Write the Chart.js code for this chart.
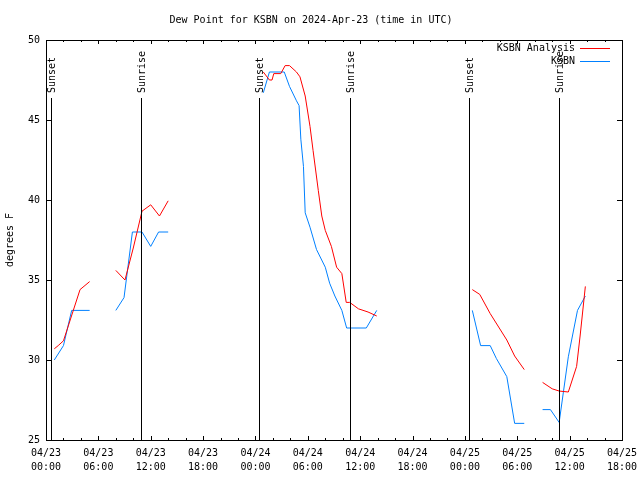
<!DOCTYPE html>
<html>
<head>
<meta charset="utf-8">
<script src="https://cdn.jsdelivr.net/npm/chart.js@4/dist/chart.umd.min.js"></script>
<style>
  html, body { margin: 0; padding: 0; background: #fff; }
  #wrap { width: 640px; height: 480px; }
</style>
</head>
<body>
<div id="wrap"><canvas id="dewChart" width="640" height="480"></canvas></div>
<script>
// hours since 04/23 00:00 UTC; null value = gap in the record
const analysisHours = [0.95, 1.4, 2.0, 3.9, 5.0, 6.5,
    8.0, 9.05, 10.0, 11.0, 12.0, 13.0, 14.0, 19.0,
    24.9, 25.6, 25.9, 26.1, 26.9, 27.4, 27.9, 28.7, 29.1, 29.7, 30.25, 30.6, 31.2, 31.6, 32.0, 32.7, 33.3, 33.9, 34.4, 34.8, 35.8, 36.9, 37.9, 43.0,
    48.85, 49.7, 50.9, 52.8, 53.7, 54.8, 55.8,
    56.9, 58.0, 58.8, 59.85, 60.8, 61.2, 61.8];
const analysisDew = [30.7, 30.9, 31.2, 34.4, 34.9, null,
    35.6, 35.0, 37.0, 39.3, 39.7, 39.0, 39.95, null,
    48.0, 47.5, 47.5, 47.9, 47.9, 48.4, 48.4, 48.0, 47.7, 46.5, 44.6, 43.1, 40.6, 39.0, 38.1, 37.1, 35.8, 35.4, 33.6, 33.6, 33.2, 33.0, 32.75, null,
    34.4, 34.1, 32.9, 31.25, 30.25, 29.4, null,
    28.6, 28.2, 28.06, 28.0, 29.6, 31.5, 34.6];

const obsHours = [0.95, 2.0, 2.94, 5.0, 6.5,
    8.0, 8.94, 9.9, 11.0, 12.0, 12.9, 14.0, 19.0,
    24.9, 25.6, 27.3, 27.9, 28.7, 29.0, 29.2, 29.5, 29.7, 30.25, 31.0, 32.0, 32.5, 33.1, 33.9, 34.45, 36.7, 37.9, 43.0,
    48.85, 49.8, 50.9, 51.6, 52.8, 53.7, 54.8, 55.8,
    56.9, 57.8, 58.8, 59.85, 60.9, 61.8];
const obsDew = [30.0, 30.9, 33.1, 33.1, null,
    33.1, 33.9, 38.0, 38.0, 37.1, 38.0, 38.0, null,
    46.7, 48.0, 48.0, 47.1, 46.2, 45.9, 43.8, 42.1, 39.2, 38.3, 36.9, 35.8, 34.8, 34.0, 33.1, 32.0, 32.0, 33.1, null,
    33.1, 30.9, 30.9, 30.1, 28.96, 26.04, 26.04, null,
    26.9, 26.9, 26.1, 30.2, 33.1, 34.0];

const sunsetHours = [0.54, 24.45, 48.5];
const sunriseHours = [10.9, 34.83, 58.8];

const dayLabels = ['04/23', '04/24', '04/25', '04/26'];
const yTicks = [25, 30, 35, 40, 45, 50];

const FONT = 'DejaVu Sans Mono';

function toPoints(hours, vals) {
    return hours.map((h, i) => ({ x: h, y: vals[i] }));
}

// frame, inward ticks, sunrise/sunset markers, key
const gnuplotLook = {
    id: 'gnuplotLook',
    afterDatasetsDraw(chart) {
        const { ctx, chartArea: a, scales } = chart;
        const xs = scales.x, ys = scales.y;
        ctx.save();
        ctx.strokeStyle = '#000';
        ctx.lineWidth = 1;
        ctx.strokeRect(a.left + 0.5, a.top + 0.5, a.right - a.left, a.bottom - a.top);

        ctx.beginPath();
        for (let h = 0; h <= 66; h += 2) {
            const px = Math.round(xs.getPixelForValue(h)) + 0.5;
            const len = h % 6 === 0 ? 4 : 2;
            ctx.moveTo(px, a.bottom); ctx.lineTo(px, a.bottom - len);
            ctx.moveTo(px, a.top); ctx.lineTo(px, a.top + len);
        }
        yTicks.forEach(v => {
            const py = Math.round(ys.getPixelForValue(v)) + 0.5;
            ctx.moveTo(a.left, py); ctx.lineTo(a.left + 5, py);
            ctx.moveTo(a.right, py); ctx.lineTo(a.right - 5, py);
        });
        ctx.stroke();

        // sun event lines with vertical labels
        ctx.font = '10px ' + FONT;
        ctx.fillStyle = '#000';
        const marks = sunsetHours.map(h => [h, 'Sunset']).concat(sunriseHours.map(h => [h, 'Sunrise']));
        marks.forEach(([h, txt]) => {
            const px = Math.round(xs.getPixelForValue(h)) + 0.5;
            ctx.beginPath();
            ctx.moveTo(px, 98);
            ctx.lineTo(px, a.bottom);
            ctx.stroke();
            ctx.save();
            ctx.translate(px + 1, 93);
            ctx.rotate(-Math.PI / 2);
            ctx.textAlign = 'left';
            ctx.textBaseline = 'middle';
            ctx.fillText(txt, 0, 0);
            ctx.restore();
        });

        // key
        ctx.textAlign = 'right';
        ctx.textBaseline = 'middle';
        chart.data.datasets.forEach((ds, i) => {
            const y = 48 + i * 13;
            ctx.fillStyle = '#000';
            ctx.fillText(ds.label, 575, y);
            ctx.strokeStyle = ds.borderColor;
            ctx.beginPath();
            ctx.moveTo(580, y + 0.5);
            ctx.lineTo(610, y + 0.5);
            ctx.stroke();
        });
        ctx.restore();
    }
};

document.addEventListener('DOMContentLoaded', () => {
    const ctx = document.getElementById('dewChart').getContext('2d');
    new Chart(ctx, {
        type: 'line',
        data: {
            datasets: [{
                label: 'KSBN Analysis',
                data: toPoints(analysisHours, analysisDew),
                borderColor: '#ff0000',
                borderWidth: 1,
                pointRadius: 0,
                tension: 0,
                spanGaps: false
            }, {
                label: 'KSBN',
                data: toPoints(obsHours, obsDew),
                borderColor: '#0080ff',
                borderWidth: 1,
                pointRadius: 0,
                tension: 0,
                spanGaps: false
            }]
        },
        options: {
            responsive: false,
            animation: false,
            layout: { padding: { top: 0, right: 18, bottom: 0, left: 0 } },
            plugins: {
                legend: { display: false },
                tooltip: { enabled: false },
                title: {
                    display: true,
                    text: 'Dew Point for KSBN on 2024-Apr-23 (time in UTC)',
                    color: '#000',
                    font: { family: FONT, size: 10, weight: 'normal', lineHeight: 1.2 },
                    padding: { top: 14, bottom: 14 }
                }
            },
            scales: {
                x: {
                    type: 'linear',
                    min: 0,
                    max: 66,
                    border: { display: false },
                    grid: { display: false, drawTicks: false },
                    ticks: {
                        stepSize: 2,
                        autoSkip: false,
                        maxRotation: 0,
                        padding: 6,
                        color: '#000',
                        font: { family: FONT, size: 10, lineHeight: 1.4 },
                        callback: (v) => {
                            if (v % 6 !== 0) return '';
                            const day = dayLabels[Math.floor(v / 24)];
                            const hr = String(v % 24).padStart(2, '0');
                            return [day, hr + ':00'];
                        }
                    },
                    afterFit: (s) => {
                        s.height = 40;
                        s.paddingLeft = 0;
                        s.paddingRight = 0;
                    }
                },
                y: {
                    min: 25,
                    max: 50,
                    border: { display: false },
                    grid: { display: false, drawTicks: false },
                    ticks: {
                        stepSize: 5,
                        padding: 6,
                        color: '#000',
                        font: { family: FONT, size: 10 }
                    },
                    title: {
                        display: true,
                        text: 'degrees F',
                        color: '#000',
                        font: { family: FONT, size: 10 },
                        padding: { top: 4, bottom: 0 }
                    },
                    afterFit: (s) => { s.width = 46; }
                }
            }
        },
        plugins: [gnuplotLook]
    });
});
</script>
</body>
</html>
